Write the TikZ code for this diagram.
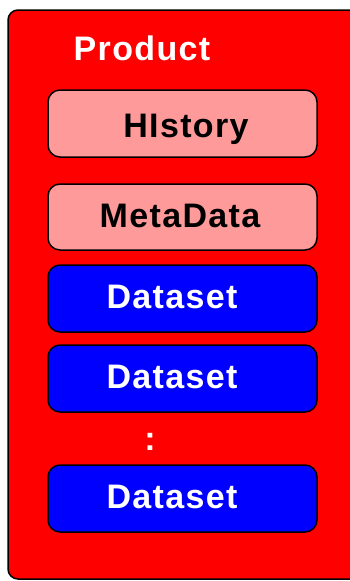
\documentclass[tikz,border=0pt]{standalone}
\usepackage{fontspec}
\setmainfont{Liberation Sans}[LetterSpace=4]
\definecolor{prodred}{HTML}{FF0000}
\definecolor{metapink}{HTML}{FF9A9A}
\definecolor{dsblue}{HTML}{0000FF}
\tikzset{
  x=1pt, y=-1pt,
  part/.style={draw=black, line width=1.5pt, rounded corners=12pt,
    minimum width=269pt, minimum height=67pt, inner sep=0pt, outer sep=0pt},
  metabox/.style={part, fill=metapink},
  databox/.style={part, fill=dsblue},
  lbl/.style={anchor=base, inner sep=0pt, font=\fontsize{34}{40}\selectfont\bfseries},
  darklbl/.style={lbl, text=black},
  lightlbl/.style={lbl, text=white}
}
\begin{document}
\begin{tikzpicture}
\useasboundingbox (0,0) rectangle (350,581);
\clip (0,0) rectangle (350,581);
\draw[fill=prodred, line width=1.5pt, rounded corners=10pt] (8,10) rectangle (370,579);
\node[lightlbl] (product) at (142,60) {Product};
\node[metabox] (history) at (182.5,123.5) {};
\node[darklbl] (historylbl) at (186,137) {HIstory};
\node[metabox, minimum height=66pt] (meta) at (182.5,217) {};
\node[darklbl] (metalbl) at (180,227) {MetaData};
\node[databox] (ds1) at (182.5,298.5) {};
\node[lightlbl] (ds1lbl) at (172,308) {Dataset};
\node[databox] (ds2) at (182.5,378.5) {};
\node[lightlbl] (ds2lbl) at (172,388) {Dataset};
\node[lightlbl] (dots) at (150,450) {:};
\node[databox] (ds3) at (182.5,498.5) {};
\node[lightlbl] (ds3lbl) at (172,508) {Dataset};
\end{tikzpicture}
\end{document}
